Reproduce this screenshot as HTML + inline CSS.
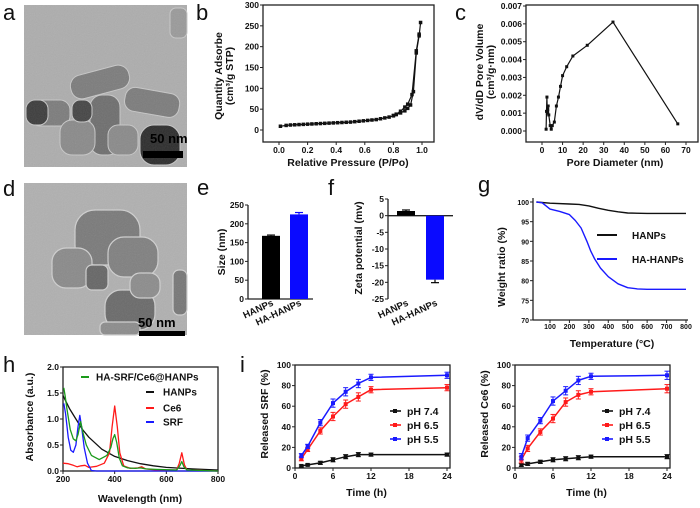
<!DOCTYPE html>
<html><head><meta charset="utf-8"><style>
html,body{margin:0;padding:0;background:#fff;}
svg{display:block;font-family:"Liberation Sans",Arial,sans-serif;}
.t{font-size:8.5px;font-weight:bold;fill:#111;}
.ti{font-size:10.5px;font-weight:bold;fill:#111;}
.pl{font-size:22px;fill:#111;}
</style></head><body>
<svg id="fig" width="700" height="508" viewBox="0 0 700 508">
<defs>
<filter id="noise"><feTurbulence type="fractalNoise" baseFrequency="0.9" numOctaves="2"/><feColorMatrix type="saturate" values="0"/><feComponentTransfer><feFuncA type="linear" slope="0.25"/></feComponentTransfer><feComposite in2="SourceGraphic" operator="in"/></filter>
</defs>
<g>
<rect x="24" y="5" width="163" height="162" fill="#adadad"/>
<g fill="#7c7c7c" stroke="#c8c8c8" stroke-width="1">
<rect x="70" y="70" width="60" height="24" rx="11" transform="rotate(-15 100 82)"/>
<rect x="30" y="100" width="40" height="26" rx="10"/>
<rect x="90" y="95" width="30" height="60" rx="12" fill="#6e6e6e"/>
<rect x="125" y="90" width="55" height="24" rx="10" transform="rotate(10 150 100)"/>
<rect x="140" y="125" width="40" height="40" rx="14" fill="#2c2c2c"/>
<rect x="60" y="120" width="35" height="35" rx="12" fill="#8a8a8a"/>
<rect x="108" y="125" width="30" height="30" rx="10" fill="#8a8a8a"/>
<rect x="170" y="8" width="17" height="30" rx="6" fill="#9a9a9a"/>
<rect x="26" y="100" width="22" height="25" rx="9" fill="#3c3c3c"/>
<rect x="72" y="100" width="20" height="22" rx="8" fill="#454545"/>
</g>
<rect x="24" y="5" width="163" height="162" fill="#999" filter="url(#noise)" opacity="0.6"/>
<text x="150" y="143" style="font-size:13px;font-weight:bold">50 nm</text>
<rect x="143" y="151" width="40" height="7" fill="#000"/>
</g>
<g>
<rect x="24" y="183" width="163" height="152" fill="#b0b0b0"/>
<g fill="#7a7a7a" stroke="#d0d0d0" stroke-width="1.2">
<rect x="75" y="210" width="65" height="55" rx="20"/>
<rect x="108" y="237" width="50" height="40" rx="16" fill="#808080"/>
<rect x="52" y="248" width="40" height="40" rx="14" fill="#8a8a8a"/>
<rect x="86" y="265" width="22" height="25" rx="6" fill="#666"/>
<rect x="105" y="290" width="50" height="40" rx="16" fill="#6a6a6a"/>
<rect x="130" y="273" width="30" height="25" rx="10" fill="#8c8c8c"/>
<rect x="173" y="270" width="14" height="45" rx="6" fill="#777"/>
<rect x="100" y="322" width="40" height="13" rx="5" fill="#8c8c8c"/>
</g>
<rect x="24" y="183" width="163" height="152" fill="#999" filter="url(#noise)" opacity="0.6"/>
<text x="138" y="327" style="font-size:13px;font-weight:bold">50 nm</text>
<rect x="139" y="331" width="46" height="5" fill="#000"/>
</g>
<text class="pl" x="3" y="20">a</text>
<text class="pl" x="196" y="20">b</text>
<text class="pl" x="455" y="20">c</text>
<text class="pl" x="3" y="196">d</text>
<text class="pl" x="197" y="195">e</text>
<text class="pl" x="328" y="195">f</text>
<text class="pl" x="478" y="192">g</text>
<text class="pl" x="3" y="372">h</text>
<text class="pl" x="240" y="372">i</text>
</svg>
<script>
// ---- data ----
const bX = [0.01,0.05,0.08,0.11,0.14,0.17,0.2,0.23,0.26,0.29,0.32,0.35,0.38,0.41,0.44,0.47,0.5,0.53,0.56,0.59,0.62,0.65,0.68,0.71,0.74,0.77,0.8,0.82,0.85,0.88,0.9,0.92,0.94,0.96,0.98,0.99];
const bAds = [9,11,12,12.5,13,13.5,14,14.5,15,15.5,16,16.5,17,17.5,18,18.5,19,20,21,22,23,24,25,27,29,31,34,37,41,46,52,60,92,185,226,258];
const bDesX = [0.8,0.82,0.85,0.88,0.9,0.93,0.96,0.98];
const bDes = [35,38,45,55,62,85,190,230];
const cX = [2,2.2,2.4,2.6,2.8,3,3.3,4,4.5,5,6,7,8,9,10,12,15,22,34.5,66];
const cY = [0.0001,0.0011,0.0019,0.001,0.0012,0.0014,0.0009,0.0003,0.0001,0.0003,0.0005,0.0014,0.0019,0.0025,0.0031,0.0036,0.0042,0.0048,0.0061,0.0004];
const eCats = ["HANPs","HA-HANPs"];
const eVals = [168,225];
const eErr = [2,5];
const fVals = [1.4,-19.2];
const fErr = [0.3,0.9];
const gT1 = [30,100,200,250,300,350,400,450,500,600,700,800];
const gHANPs = [100,99.7,99.5,99.4,99,98.4,97.9,97.5,97.2,97.1,97.1,97.1];
const gT2 = [30,60,100,150,200,230,260,290,310,330,360,400,450,500,550,600,700,800];
const gHA = [100,99.8,98.2,97.6,96.8,95.3,93.4,90,87.5,85.5,83.2,81,79.2,78.2,77.9,77.8,77.8,77.8];
const hWlG = [203,208,215,228,240,250,258,268,278,290,310,340,370,385,393,400,408,418,430,450,480,500,520,560,640,652,660,668,680,800];
const hGreen = [1.6,1.45,1.2,0.8,0.62,0.58,0.7,0.95,0.72,0.5,0.3,0.22,0.3,0.45,0.62,0.7,0.55,0.25,0.1,0.06,0.05,0.06,0.04,0.03,0.02,0.1,0.18,0.08,0.02,0.0];
const hWlH = [200,225,250,275,300,350,400,450,500,550,600,700,800];
const hHANPs = [1.45,1.2,1.0,0.8,0.65,0.42,0.28,0.2,0.14,0.1,0.07,0.04,0.02];
const hWlC = [200,220,240,255,270,285,300,330,360,380,390,400,410,420,435,460,490,505,520,560,640,650,660,670,680,800];
const hCe6 = [0.15,0.14,0.11,0.08,0.1,0.11,0.07,0.09,0.15,0.35,0.85,1.25,0.85,0.35,0.1,0.05,0.06,0.08,0.04,0.02,0.02,0.15,0.35,0.12,0.02,0.0];
const hWlS = [203,210,220,230,240,250,258,265,272,282,295,310,330,800];
const hSRF = [1.3,1.1,0.65,0.4,0.36,0.5,0.85,1.07,0.85,0.45,0.15,0.01,0,0];
const iTime = [1,2,4,6,8,10,12,24];
const srf74 = [2,3,5,8,11,13,13,13];
const srf65 = [9,18,36,50,62,69,76,78];
const srf55 = [12,21,44,63,74,82,88,90];
const srfErr = [2,2,3,4,4,4,3,3];
const ce74 = [3,4,6,8,9,10,11,11];
const ce65 = [8,19,35,48,64,71,74,77];
const ce55 = [11,29,46,65,75,85,89,90];
const ceErr = [3,3,3,4,4,4,3,4];
const bXTicks = [0,0.2,0.4,0.6,0.8,1.0];
const bYTicks = [0,50,100,150,200,250,300];
const cXTicks = [0,10,20,30,40,50,60,70];
const cYTicks = [0,0.001,0.002,0.003,0.004,0.005,0.006,0.007];
const eYTicks = [0,50,100,150,200,250];
const fYTicks = [5,0,-5,-10,-15,-20,-25];
const gXTicks = [100,200,300,400,500,600,700,800];
const gYTicks = [70,75,80,85,90,95,100];
const hXTicks = [200,400,600,800];
const hYTicks = [0,0.5,1.0,1.5,2.0];
const iXTicks = [0,6,12,18,24];
const iYTicks = [0,20,40,60,80,100];

const NS = "http://www.w3.org/2000/svg";
const svg = document.getElementById("fig");
function mk(tag, attrs, parent, txt) {
  const el = document.createElementNS(NS, tag);
  for (const k in attrs) el.setAttribute(k, attrs[k]);
  if (txt !== undefined) el.textContent = txt;
  (parent || svg).appendChild(el);
  return el;
}
function lin(d0, d1, r0, r1) { return v => r0 + (v - d0) * (r1 - r0) / (d1 - d0); }
function poly(xs, ys, sx, sy) { return xs.map((x, i) => sx(x).toFixed(1) + "," + sy(ys[i]).toFixed(1)).join(" "); }

function axes(name, o) {
  const g = mk("g", {});
  
  
  if (o.box) {
    const r = mk("rect", {x:o.x0, y:o.y0, width:o.x1-o.x0, height:o.y1-o.y0, fill:"none", stroke:"#222", "stroke-width":1.3}, g);
    
    
  } else {
    const ya = mk("line", {x1:o.x0, y1:o.y0, x2:o.x0, y2:o.y1, stroke:"#222", "stroke-width":1.3}, g);
    
    
    const xa = mk("line", {x1:o.x0, y1:o.xAxisY, x2:o.x1, y2:o.xAxisY, stroke:"#222", "stroke-width":1.3}, g);
    
    
  }
  (o.yt || []).forEach((v, i) => {
    const y = o.sy(v);
    mk("line", {x1:o.x0-3, y1:y, x2:o.x0, y2:y, stroke:"#222", "stroke-width":1}, g);
    const t = mk("text", {x:o.x0-4, y:y+3, "text-anchor":"end", class:"t", style:o.ysmall?"font-size:7px":""}, g, o.yfmt ? o.yfmt(v) : v);
    
    
  });
  (o.xt || []).forEach(v => {
    const x = o.sx(v);
    const by = o.box ? o.y1 : o.xAxisY;
    mk("line", {x1:x, y1:by, x2:x, y2:by+3, stroke:"#222", "stroke-width":1}, g);
    const t = mk("text", {x:x, y:by+(o.ysmall?9:11), "text-anchor":"middle", class:"t", style:o.ysmall?"font-size:7px":""}, g, o.xfmt ? o.xfmt(v) : v);
    
    
  });
  if (o.xTitle) {
    const t = mk("text", {x:o.xTitle[1], y:o.xTitle[2], "text-anchor":"middle", class:"ti"}, g, o.xTitle[0]);
    
    
  }
  if (o.yTitle) {
    o.yTitle[0].forEach((line, k) => {
      const x = o.yTitle[1] + k * 11, y = o.yTitle[2];
      const t = mk("text", {x:x, y:y, "text-anchor":"middle", class:"ti", transform:`rotate(-90 ${x} ${y})`}, g, line);
      
      
    });
  }
  return g;
}
function line(name, xs, ys, sx, sy, color, w) {
  const p = mk("polyline", {points:poly(xs, ys, sx, sy), fill:"none", stroke:color, "stroke-width":w||1.2, "stroke-linejoin":"round"});
  
  
  return p;
}
function markers(name, xs, ys, sx, sy, color, s) {
  const g = mk("g", {fill:color});
  
  
  xs.forEach((x, i) => {
    const m = mk("rect", {x:sx(x)-s/2, y:sy(ys[i])-s/2, width:s, height:s}, g);
    
    
  });
}

// ---- b ----
{
  const sx = lin(0, 1, 279, 422), sy = lin(0, 300, 130, 5);
  axes("isotherm", {x0:263, x1:434, y0:5, y1:142, box:true, sx, sy, xt:bXTicks, yt:bYTicks, xfmt:v=>v.toFixed(1),
    xTitle:["Relative Pressure (P/Po)", 348, 166], yTitle:[["Quantity Adsorbe","(cm³/g STP)"], 222, 76]});
  line("adsorption-line", bX, bAds, sx, sy, "#111");
  markers("adsorption-points", bX, bAds, sx, sy, "#111", 3.5);
  line("desorption-line", bDesX, bDes, sx, sy, "#111");
  markers("desorption-points", bDesX, bDes, sx, sy, "#111", 3.5);
}
// ---- c ----
{
  const sx = lin(0, 70, 542, 686), sy = lin(0, 0.007, 131, 6);
  axes("pore", {x0:526, x1:698, y0:5, y1:142, box:true, sx, sy, xt:cXTicks, yt:cYTicks, yfmt:v=>v.toFixed(3),
    xTitle:["Pore Diameter (nm)", 615, 166], yTitle:[["dV/dD Pore Volume","(cm³/g·nm)"], 483, 72]});
  line("pore-line", cX, cY, sx, sy, "#111");
  markers("pore-points", cX, cY, sx, sy, "#111", 3);
}
// ---- e ----
{
  const sy = lin(0, 250, 299, 205);
  axes("size", {x0:248, x1:313, y0:205, y1:299, xAxisY:299, sx:v=>v, sy, yt:eYTicks, yTitle:[["Size (nm)"], 225, 252]});
  const xs = [262, 290], cols = ["#000", "#0a0aff"];
  eVals.forEach((v, i) => {
    const r = mk("rect", {x:xs[i], y:sy(v), width:18, height:sy(0)-sy(v), fill:cols[i]});
    
    
    mk("line", {x1:xs[i]+9, y1:sy(v+eErr[i]), x2:xs[i]+9, y2:sy(v), stroke:cols[i], "stroke-width":1.2});
    mk("line", {x1:xs[i]+5, y1:sy(v+eErr[i]), x2:xs[i]+13, y2:sy(v+eErr[i]), stroke:cols[i], "stroke-width":1.2});
    const cx = xs[i] + 12, cy = 305;
    const t = mk("text", {x:cx, y:cy, "text-anchor":"end", class:"t", style:"font-size:9.5px", transform:`rotate(-25 ${cx} ${cy})`}, svg, eCats[i]);
    
    
  });
}
// ---- f ----
{
  const sy = lin(-25, 5, 299, 199);
  axes("zeta", {x0:388, x1:388, y0:199, y1:299, xAxisY:299, sx:v=>v, sy, yt:fYTicks, yTitle:[["Zeta potential (mv)"], 362, 248]});
  const zl = mk("line", {x1:388, y1:sy(0), x2:453, y2:sy(0), stroke:"#222", "stroke-width":1.3});
  
  
  const xs = [397, 426], cols = ["#000", "#0a0aff"];
  fVals.forEach((v, i) => {
    const top = Math.min(sy(v), sy(0)), h = Math.abs(sy(v) - sy(0));
    const r = mk("rect", {x:xs[i], y:top, width:18, height:h, fill:cols[i]});
    
    
    const ev = v + Math.sign(v) * fErr[i];
    mk("line", {x1:xs[i]+9, y1:sy(ev), x2:xs[i]+9, y2:sy(v), stroke:"#000", "stroke-width":1.2});
    mk("line", {x1:xs[i]+5, y1:sy(ev), x2:xs[i]+13, y2:sy(ev), stroke:"#000", "stroke-width":1.2});
    const cx = xs[i] + 12, cy = 305;
    const t = mk("text", {x:cx, y:cy, "text-anchor":"end", class:"t", style:"font-size:9.5px", transform:`rotate(-25 ${cx} ${cy})`}, svg, eCats[i]);
    
    
  });
}
// ---- g ----
{
  const sx = lin(100, 800, 550, 686), sy = lin(70, 100, 320, 202);
  axes("tga", {x0:533, x1:688, y0:198, y1:320, xAxisY:320, sx, sy, xt:gXTicks, yt:gYTicks, ysmall:true,
    xTitle:["Temperature (°C)", 612, 347], yTitle:[["Weight ratio (%)"], 505, 267]});
  line("tga-hanps-line", gT1, gHANPs, sx, sy, "#111", 1.4);
  line("tga-ha-hanps-line", gT2, gHA, sx, sy, "#1a1aff", 1.4);
  mk("line", {x1:597, y1:235, x2:617, y2:235, stroke:"#111", "stroke-width":2});
  const l1 = mk("text", {x:632, y:239, class:"ti", style:"font-size:10px"}, svg, "HANPs");
  
  
  mk("line", {x1:597, y1:259, x2:617, y2:259, stroke:"#1a1aff", "stroke-width":2});
  const l2 = mk("text", {x:632, y:263, class:"ti", style:"font-size:10px"}, svg, "HA-HANPs");
  
  
}
// ---- h ----
{
  const sx = lin(200, 800, 63, 218), sy = lin(0, 2, 471, 367);
  axes("uv", {x0:63, x1:218, y0:367, y1:471, box:true, sx, sy, xt:hXTicks, yt:hYTicks, yfmt:v=>v.toFixed(1),
    xTitle:["Wavelength (nm)", 140, 502], yTitle:[["Absorbance (a.u.)"], 33, 417]});
  line("uv-hanps-line", hWlH, hHANPs, sx, sy, "#111", 1.3);
  line("uv-ce6-line", hWlC, hCe6, sx, sy, "#ff1a1a", 1.3);
  line("uv-srf-line", hWlS, hSRF, sx, sy, "#1a1aff", 1.3);
  line("uv-complex-line", hWlG, hGreen, sx, sy, "#1a9a1a", 1.3);
  const leg = [["HA-SRF/Ce6@HANPs","#1a9a1a",81,377,96],["HANPs","#111",146,392,163],["Ce6","#ff1a1a",146,408,163],["SRF","#1a1aff",146,422,163]];
  leg.forEach(L => {
    mk("line", {x1:L[2], y1:L[3], x2:L[2]+8, y2:L[3], stroke:L[1], "stroke-width":2});
    const t = mk("text", {x:L[4], y:L[3]+3.5, class:"ti", style:"font-size:10px"}, svg, L[0]);
    
    
  });
}
// ---- i ----
function release(name, x0, x1, ytitle, s74, s65, s55, err, legX) {
  const sx = lin(0, 24, x0, x1 - 3), sy = lin(0, 100, 468, 365);
  axes(name, {x0:x0, x1:x1, y0:365, y1:468, box:true, sx, sy, xt:iXTicks, yt:iYTicks,
    xTitle:["Time (h)", (x0 + x1) / 2 - 6, 496], yTitle:[[ytitle], x0 - 27, 414]});
  const ser = [["ph74", s74, "#111", 0.5], ["ph65", s65, "#ff1a1a", 1], ["ph55", s55, "#1a1aff", 1]];
  ser.forEach(S => {
    line(name + "-" + S[0] + "-line", iTime, S[1], sx, sy, S[2], 1.5);
    markers(name + "-" + S[0] + "-points", iTime, S[1], sx, sy, S[2], 4);
    iTime.forEach((t, i) => {
      const e = err[i] * S[3], x = sx(t);
      mk("line", {x1:x, y1:sy(S[1][i] - e), x2:x, y2:sy(S[1][i] + e), stroke:S[2], "stroke-width":1});
      mk("line", {x1:x-2.5, y1:sy(S[1][i] + e), x2:x+2.5, y2:sy(S[1][i] + e), stroke:S[2], "stroke-width":1});
      mk("line", {x1:x-2.5, y1:sy(S[1][i] - e), x2:x+2.5, y2:sy(S[1][i] - e), stroke:S[2], "stroke-width":1});
    });
  });
  const labels = ["pH 7.4", "pH 6.5", "pH 5.5"], ly = [411, 425, 439];
  ser.forEach((S, k) => {
    mk("line", {x1:legX - 5, y1:ly[k], x2:legX + 6, y2:ly[k], stroke:S[2], "stroke-width":1.6});
    mk("rect", {x:legX - 2, y:ly[k] - 2, width:4, height:4, fill:S[2]});
    const t = mk("text", {x:legX + 12, y:ly[k] + 4, class:"ti", style:"font-size:10.5px"}, svg, labels[k]);
    
    
  });
}
release("release-srf", 295, 450, "Released SRF (%)", srf74, srf65, srf55, srfErr, 395);
release("release-ce6", 515, 670, "Released Ce6 (%)", ce74, ce65, ce55, ceErr, 607);
</script>
</body></html>
